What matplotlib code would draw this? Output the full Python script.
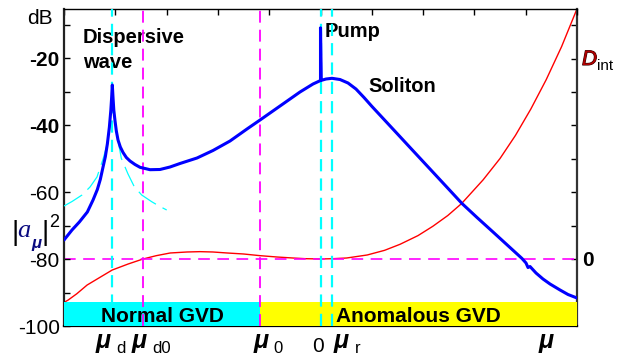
import matplotlib
matplotlib.use('Agg')
import matplotlib.pyplot as plt
import matplotlib.patheffects as pe
from matplotlib.ticker import FixedLocator

plt.rcParams['font.family'] = ['Liberation Sans', 'DejaVu Sans']

# ---------------- data ----------------
# soliton spectrum |a_mu|^2 in dB (blue), incl. pump spike at mu = 0
soliton_mu = [-5.00, -4.844, -4.701, -4.545, -4.434, -4.350, -4.292, -4.239, -4.194, -4.155,
              -4.116, -4.087, -4.072, -4.058, -4.044, -4.029, -4.005, -3.980, -3.947, -3.902,
              -3.849, -3.785, -3.713, -3.616, -3.518, -3.323, -3.129, -2.934, -2.739, -2.407,
              -2.096, -1.764, -1.433, -1.179, -0.789, -0.400, -0.146, 0.0, 0.0, 0.015,
              0.107, 0.224, 0.380, 0.536, 0.692, 0.848, 1.004, 1.160, 1.491, 1.803,
              2.135, 2.466, 2.758, 3.051, 3.363, 3.694, 3.928, 4.006, 4.045, 4.084,
              4.201, 4.337, 4.474, 4.669, 4.825, 5.00]
soliton_db = [-74.33, -71.34, -68.96, -65.97, -62.39, -59.25, -56.24, -52.54, -49.46, -45.67,
              -40.69, -35.58, -31.94, -28.06, -31.94, -35.58, -38.81, -41.79, -44.48, -46.57,
              -48.21, -49.70, -50.75, -51.79, -52.63, -53.34, -53.28, -52.54, -51.49, -49.85,
              -47.61, -44.78, -41.19, -38.51, -34.33, -30.15, -27.76, -26.72, -11.0, -26.68,
              -26.27, -26.06, -26.42, -27.46, -29.26, -31.79, -34.48, -37.05, -42.51, -47.67,
              -53.14, -58.60, -63.43, -67.61, -71.94, -76.57, -79.85, -81.19, -82.54, -82.24,
              -84.18, -85.97, -87.46, -89.25, -90.60, -91.64]

# dispersive-wave fit (thin cyan), left and right branches
dw_left_mu = [-5.0, -4.844, -4.649, -4.493, -4.357, -4.234, -4.162, -4.097, -4.068, -4.058]
dw_left_db = [-64.18, -62.84, -60.90, -58.51, -55.52, -49.94, -45.97, -38.5, -32.54, -27.17]
dw_right_mu = [-4.058, -4.042, -4.014, -3.942, -3.883, -3.752, -3.630, -3.485, -3.290, -3.148, -2.998]
dw_right_db = [-27.17, -32.54, -38.51, -44.99, -49.94, -54.63, -58.42, -60.90, -62.90, -64.18, -65.37]

# integrated dispersion D_int (red, right axis)
dint_mu = [-5.00, -4.92, -4.75, -4.55, -4.30, -4.06, -3.75, -3.46, -3.20, -2.93,
           -2.60, -2.35, -2.10, -1.82, -1.50, -1.18, -0.85, -0.54, -0.30, 0.0,
           0.25, 0.51, 0.91, 1.25, 1.55, 1.90, 2.19, 2.48, 2.75, 3.17,
           3.50, 3.80, 4.10, 4.40, 4.70, 5.00]
dint_val = [-1.30, -1.23, -1.04, -0.78, -0.55, -0.33, -0.15, 0.0, 0.10, 0.18,
            0.21, 0.22, 0.21, 0.18, 0.15, 0.10, 0.06, 0.03, 0.01, 0.0,
            0.01, 0.03, 0.12, 0.26, 0.44, 0.70, 0.98, 1.30, 1.66, 2.37,
            3.01, 3.70, 4.49, 5.37, 6.36, 7.49]

# special mode numbers
mu_d, mu_d0, mu_0, mu_p, mu_r = -4.058, -3.46, -1.18, 0.0, 0.224

# GVD regions
band_labels = ['Normal GVD', 'Anomalous GVD']
band_edges = [-5.0, mu_0, 5.0]
band_colors = ['#00ffff', '#ffff00']

y_ticks = [-100, -80, -60, -40, -20]
y_ticklabels = ['-100', '-80', '-60', '-40', '-20']

# ---------------- figure ----------------
W, H = 623, 355
fig = plt.figure(figsize=(W / 100, H / 100), dpi=100)
ax = fig.add_axes([64 / W, 1 - 326 / H, 513 / W, 317 / H])
ax2 = ax.twinx()
ax.set_zorder(2)
ax2.set_zorder(1)
ax.patch.set_visible(False)

ax.set_xlim(-5, 5)
ax.set_ylim(-100, -5.37)
ax2.set_ylim(-2.006, 7.485)

# right axis: D_int
ax2.plot(dint_mu, dint_val, color='#ff0000', lw=1.0, zorder=2)
ax2.axhline(0, color='#ff00ff', lw=1.2, linestyle=(0, (7.0, 4.5)), zorder=3)

# bands
for i, lab in enumerate(band_labels):
    ax.bar(band_edges[i], -92.84 - (-100), width=band_edges[i + 1] - band_edges[i],
           bottom=-100, align='edge', color=band_colors[i], edgecolor='none', zorder=3)
    ax.text((band_edges[i] + band_edges[i + 1]) / 2, -98.8, lab, ha='center', va='baseline',
            fontsize=15, fontweight='bold', zorder=6)

# dispersive wave fits
ax.plot(dw_left_mu, dw_left_db, color='#00ffff', lw=0.9, linestyle=(0, (17, 6)), zorder=4)
ax.plot(dw_right_mu, dw_right_db, color='#00ffff', lw=0.9, linestyle=(0, (17, 6)), zorder=4)

# vertical markers
for x in [mu_d, mu_p, mu_r]:
    ax.axvline(x, color='#00ffff', lw=1.6, linestyle=(0, (5.5, 3.2)), zorder=4)
for x in [mu_d0, mu_0]:
    ax.axvline(x, color='#ff00ff', lw=1.3, linestyle=(0, (6.6, 3.9)), zorder=4)

# soliton spectrum
ax.plot(soliton_mu, soliton_db, color='#0000ff', lw=2.2, zorder=5,
        solid_joinstyle='round', solid_capstyle='round')

# annotations inside the axes
ax.text(-4.63, -15.5, 'Dispersive', fontsize=14.5, fontweight='bold', va='baseline')
ax.text(-4.63, -23.0, 'wave', fontsize=14.5, fontweight='bold', va='baseline')
ax.text(0.088, -13.7, 'Pump', fontsize=14.5, fontweight='bold', va='baseline')
ax.text(0.926, -30.06, 'Soliton', fontsize=14.5, fontweight='bold', va='baseline')

# ticks / spines
ax.set_xticks(range(-5, 6))
ax.tick_params(axis='x', which='both', top=True, bottom=False, direction='in', length=4,
               labelbottom=False, labeltop=False, width=1)
ax.set_yticks(y_ticks)
ax.set_yticklabels(y_ticklabels, fontsize=15)
ax.yaxis.set_minor_locator(FixedLocator([-90, -70, -50, -30, -10]))
ax.tick_params(axis='y', which='both', direction='in', length=4, width=1, pad=3, right=False)
for lab in ax.get_yticklabels():
    if lab.get_text() in ('-20', '-40'):
        lab.set_fontweight('bold')
ax.spines['right'].set_visible(False)
ax.spines['left'].set_linewidth(1.6)
ax.spines['left'].set_color('#222222')
ax.spines['bottom'].set_linewidth(1.6)
ax.spines['top'].set_linewidth(1.0)

ax2.set_yticks(range(0, 8))
ax2.set_yticklabels(['0', '', '', '', '', '', '', ''], fontsize=15, fontweight='bold')
ax2.tick_params(axis='y', direction='in', length=4, width=1, pad=4)
for s in ['left', 'top', 'bottom']:
    ax2.spines[s].set_visible(False)
ax2.spines['right'].set_linewidth(1.6)
ax2.spines['right'].set_color('#333333')


def ftext(px, py, s, **kw):
    fig.text(px / W, 1 - py / H, s, va='baseline', ha='left', **kw)


# axis titles
ftext(27, 24, 'dB', fontsize=15)
ftext(11, 240, '|', fontsize=20)
ftext(17, 237, 'a', fontsize=19, style='italic', family='Liberation Serif', color='#0a0a80')
ftext(31, 248, 'μ', fontsize=12, style='italic', fontweight='bold', color='#0a0a80')
ftext(42, 240, '|', fontsize=20)
ftext(49, 227, '2', fontsize=13)

t = fig.text(582 / W, 1 - 65 / H, 'D', fontsize=15, style='italic', va='baseline', color='#b00000')
t.set_path_effects([pe.withStroke(linewidth=0.8, foreground='#300000')])
ftext(597, 70, 'int', fontsize=11)

# bottom mode labels
mu_kw = dict(fontsize=18, style='italic', fontweight='bold')
ftext(96, 348, 'μ', **mu_kw)
ftext(116, 353, 'd', fontsize=12)
ftext(132, 348, 'μ', **mu_kw)
ftext(152, 353, 'd0', fontsize=12)
ftext(254, 348, 'μ', **mu_kw)
ftext(273, 353, '0', fontsize=12)
ftext(312, 352, '0', fontsize=15)
ftext(334, 348, 'μ', **mu_kw)
ftext(355, 353, 'r', fontsize=12)
ftext(539, 348, 'μ', **mu_kw)

fig.savefig('out.png', dpi=100)
